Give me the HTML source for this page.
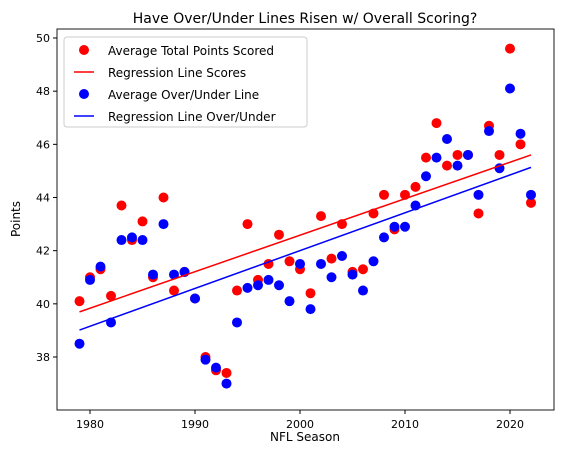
<!DOCTYPE html>
<html><head><meta charset="utf-8"><style>
body{margin:0;background:#fff;}
svg{font-family:"DejaVu Sans","Liberation Sans",sans-serif;display:block;}
</style></head><body>
<svg id="chart" width="562" height="455" xmlns="http://www.w3.org/2000/svg">
<rect width="562" height="455" fill="#fff"/>
<text x="305" y="23" text-anchor="middle" font-size="14">Have Over/Under Lines Risen w/ Overall Scoring?</text>
<g id="plot"></g>
<rect x="57" y="29" width="497" height="381" fill="none" stroke="#000" stroke-width="0.9"/>
<text x="305" y="441" text-anchor="middle" font-size="12">NFL Season</text>
<text x="20" y="219" text-anchor="middle" font-size="12" transform="rotate(-90 20 219)">Points</text>
<g>
<rect x="64" y="37" width="243" height="90" rx="3" fill="#fff" fill-opacity="0.8" stroke="#ccc"/>
<circle cx="84" cy="50" r="5" fill="red"/>
<text x="108" y="55" font-size="12">Average Total Points Scored</text>
<line x1="74" y1="72" x2="94" y2="72" stroke="red" stroke-width="1.5"/>
<text x="108" y="77" font-size="12">Regression Line Scores</text>
<circle cx="84" cy="94" r="5" fill="blue"/>
<text x="108" y="99" font-size="12">Average Over/Under Line</text>
<line x1="74" y1="116" x2="94" y2="116" stroke="blue" stroke-width="1.5"/>
<text x="108" y="121" font-size="12">Regression Line Over/Under</text>
</g>
</svg>
<script>
const years=[1979,1980,1981,1982,1983,1984,1985,1986,1987,1988,1989,1990,1991,1992,1993,1994,1995,1996,1997,1998,1999,2000,2001,2002,2003,2004,2005,2006,2007,2008,2009,2010,2011,2012,2013,2014,2015,2016,2017,2018,2019,2020,2021,2022];
const scores=[40.1,41.0,41.3,40.3,43.7,42.4,43.1,41.0,44.0,40.5,41.2,40.2,38.0,37.5,37.4,40.5,43.0,40.9,41.5,42.6,41.6,41.3,40.4,43.3,41.7,43.0,41.2,41.3,43.4,44.1,42.8,44.1,44.4,45.5,46.8,45.2,45.6,45.6,43.4,46.7,45.6,49.6,46.0,43.8];
const overUnder=[38.5,40.9,41.4,39.3,42.4,42.5,42.4,41.1,43.0,41.1,41.2,40.2,37.9,37.6,37.0,39.3,40.6,40.7,40.9,40.7,40.1,41.5,39.8,41.5,41.0,41.8,41.1,40.5,41.6,42.5,42.9,42.9,43.7,44.8,45.5,46.2,45.2,45.6,44.1,46.5,45.1,48.1,46.4,44.1];
const xTicks=[1980,1990,2000,2010,2020];
const yTicks=[38,40,42,44,46,48,50];
const NS="http://www.w3.org/2000/svg";
const g=document.getElementById('plot');
function xS(v){return 90+(v-1980)*10.5;}
function yS(v){return 357-(v-38)*26.583;}
function mk(t,a){const e=document.createElementNS(NS,t);for(const k in a)e.setAttribute(k,a[k]);g.appendChild(e);return e;}
xTicks.forEach(t=>{
  const l=mk('line',{x1:xS(t),x2:xS(t),y1:410,y2:414,stroke:'#000'});
  
  
  const tx=mk('text',{x:xS(t),y:428,'text-anchor':'middle','font-size':11});
  
  
  tx.textContent=t;
});
yTicks.forEach(t=>{
  const l=mk('line',{x1:53,x2:57,y1:yS(t),y2:yS(t),stroke:'#000'});
  
  
  const tx=mk('text',{x:50,y:yS(t)+4,'text-anchor':'end','font-size':11});
  
  
  tx.textContent=t;
});
function fit(xs,ys){const n=xs.length;let mx=0,my=0;for(let i=0;i<n;i++){mx+=xs[i];my+=ys[i];}mx/=n;my/=n;let sxy=0,sxx=0;for(let i=0;i<n;i++){sxy+=(xs[i]-mx)*(ys[i]-my);sxx+=(xs[i]-mx)**2;}const b=sxy/sxx;return [b,my-b*mx];}
years.forEach((y,i)=>{
  const c=mk('circle',{cx:xS(y),cy:yS(scores[i]),r:5,fill:'red'});
  
  
});
years.forEach((y,i)=>{
  const c=mk('circle',{cx:xS(y),cy:yS(overUnder[i]),r:5,fill:'blue'});
  
  
});
[[scores,'red','regression-line-scores'],[overUnder,'blue','regression-line-over-under']].forEach(([ys,col,nm])=>{
  const [b,a]=fit(years,ys);const x0=years[0],x1=years[years.length-1];
  const l=mk('line',{x1:xS(x0),y1:yS(a+b*x0),x2:xS(x1),y2:yS(a+b*x1),stroke:col,'stroke-width':1.5});
  
  
});
</script>
</body></html>
